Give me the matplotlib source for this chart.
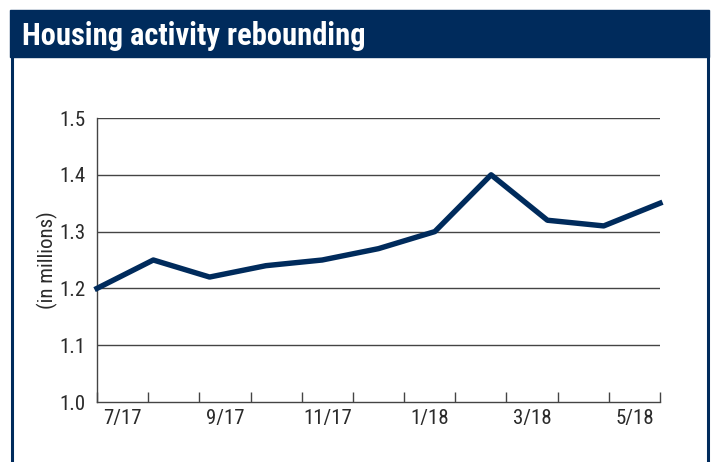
import numpy as np
import matplotlib.pyplot as plt
from matplotlib.patches import Rectangle
from matplotlib.lines import Line2D
from matplotlib import font_manager

# data
months = ["7/17", "8/17", "9/17", "10/17", "11/17", "12/17",
          "1/18", "2/18", "3/18", "4/18", "5/18"]
starts = [1.20, 1.25, 1.22, 1.24, 1.25, 1.27, 1.30, 1.40, 1.32, 1.31, 1.35]
y_ticks = [1.0, 1.1, 1.2, 1.3, 1.4, 1.5]
title = "Housing activity rebounding"

NAVY = "#002b5c"
TXT = "#2a2a2a"

# prefer a narrow face if one is installed
installed = {f.name for f in font_manager.fontManager.ttflist}
FONT = [f for f in ("Roboto Condensed", "Liberation Sans Narrow", "Roboto") if f in installed]
plt.rcParams["font.family"] = FONT + ["DejaVu Sans"]

W, H = 711, 462
fig = plt.figure(figsize=(W / 100, H / 100), dpi=100)

# title bar and frame
fig.patches.append(Rectangle((10 / W, 1 - 57 / H), 699 / W, 47 / H,
                             transform=fig.transFigure, color=NAVY, zorder=0))
for xf in (11.5 / W, 707.5 / W):
    fig.lines.append(Line2D([xf, xf], [0, 1 - 56 / H], transform=fig.transFigure,
                            color=NAVY, lw=2.2))
fig.text(22 / W, 1 - 36 / H, title, color="white", fontsize=22,
         fontweight="bold", va="center", ha="left")

ax = fig.add_axes([97 / W, 60 / H, 563 / W, 284 / H])
n = len(months)
x = np.arange(n)
ax.plot(x, starts, color=NAVY, lw=3.9, clip_on=False, zorder=3)

ax.set_xlim(0, n - 1)
ax.set_ylim(1.0, 1.5)
ax.set_yticks(y_ticks)
ax.set_yticklabels([f"{v:.1f}" for v in y_ticks])
for v in y_ticks[1:]:
    ax.axhline(v, color="#444444", lw=1.0, zorder=1)

# category boundaries as ticks, labels centered in every other category
scale = (n - 1) / n
ax.set_xticks(np.arange(n + 1) * scale)
ax.set_xticklabels([])
ax.set_xticks((np.arange(n) + 0.5) * scale, minor=True)
ax.set_xticklabels([m if i % 2 == 0 else "" for i, m in enumerate(months)], minor=True)
ax.tick_params(axis="x", which="major", direction="in", length=7, color="#444444", width=1)
ax.tick_params(axis="x", which="minor", length=0, pad=5, labelsize=15, labelcolor=TXT)
ax.tick_params(axis="y", length=0, pad=8, labelsize=15, labelcolor=TXT)

for s in ("top", "right"):
    ax.spines[s].set_visible(False)
for s in ("left", "bottom"):
    ax.spines[s].set_color("#444444")
    ax.spines[s].set_linewidth(1.0)

ax.set_ylabel("(in millions)", fontsize=15, color=TXT, labelpad=1)

fig.savefig("out.png", dpi=100)
